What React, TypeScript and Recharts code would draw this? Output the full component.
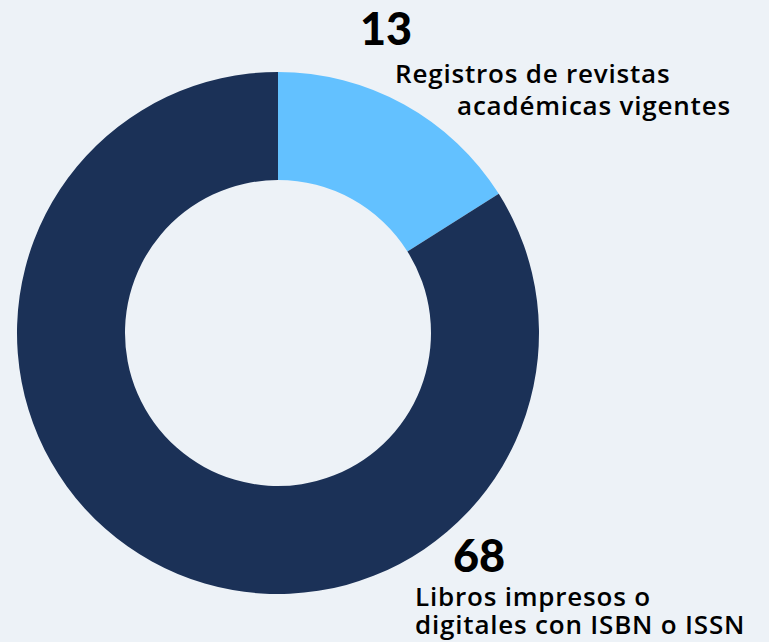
import React from 'react';
import { PieChart, Pie, Cell } from 'recharts';

const categories = ['Registros de revistas académicas vigentes', 'Libros impresos o digitales con ISBN o ISSN'];
const values = [13, 68];
const labelLines = [
	['Registros de revistas', 'académicas vigentes'],
	['Libros impresos o', 'digitales con ISBN o ISSN'],
];

const COLORS = ['#63c1ff', '#1b3157'];
const BG = '#edf2f7';
const NUM_FONT = 'Lato, "Noto Sans", sans-serif';
const FONT = '"Open Sans", "Noto Sans", sans-serif';

// label placement relative to the pie centre, per slice
const LABEL_LAYOUT = [
	{ numX: 82, numY: -288, lines: [{ x: 117, y: -250 }, { x: 179, y: -218 }] },
	{ numX: 175, numY: 239, lines: [{ x: 137, y: 273 }, { x: 137, y: 301 }] },
];

const data = categories.map((name, i) => ({ name, value: values[i] }));

function renderLabel(props: any) {
	const { cx, cy, index, value } = props;
	const l = LABEL_LAYOUT[index];
	return (
		<g>
			<text x={cx + l.numX} y={cy + l.numY} fill="#000" fontSize={45} fontWeight={900} fontFamily={NUM_FONT}>
				{value}
			</text>
			{labelLines[index].map((line, j) => (
				<text
					key={j}
					x={cx + l.lines[j].x}
					y={cy + l.lines[j].y}
					fill="#000"
					fontSize={26}
					fontWeight={600}
					letterSpacing={0.8}
					fontFamily={FONT}
				>
					{line}
				</text>
			))}
		</g>
	);
}

export default function App() {
	return (
		<div style={{ position: 'fixed', left: 0, top: 0, width: 769, height: 642, background: BG }}>
			<PieChart width={769} height={642} margin={{ top: 0, right: 0, bottom: 0, left: 0 }}>
				<Pie
					data={data}
					dataKey="value"
					cx={278}
					cy={333}
					innerRadius={153}
					outerRadius={261}
					startAngle={90}
					endAngle={-270}
					stroke="none"
					labelLine={false}
					label={renderLabel}
					isAnimationActive={false}
				>
					{data.map((d, i) => (
						<Cell key={d.name} fill={COLORS[i]} />
					))}
				</Pie>
			</PieChart>
		</div>
	);
}
